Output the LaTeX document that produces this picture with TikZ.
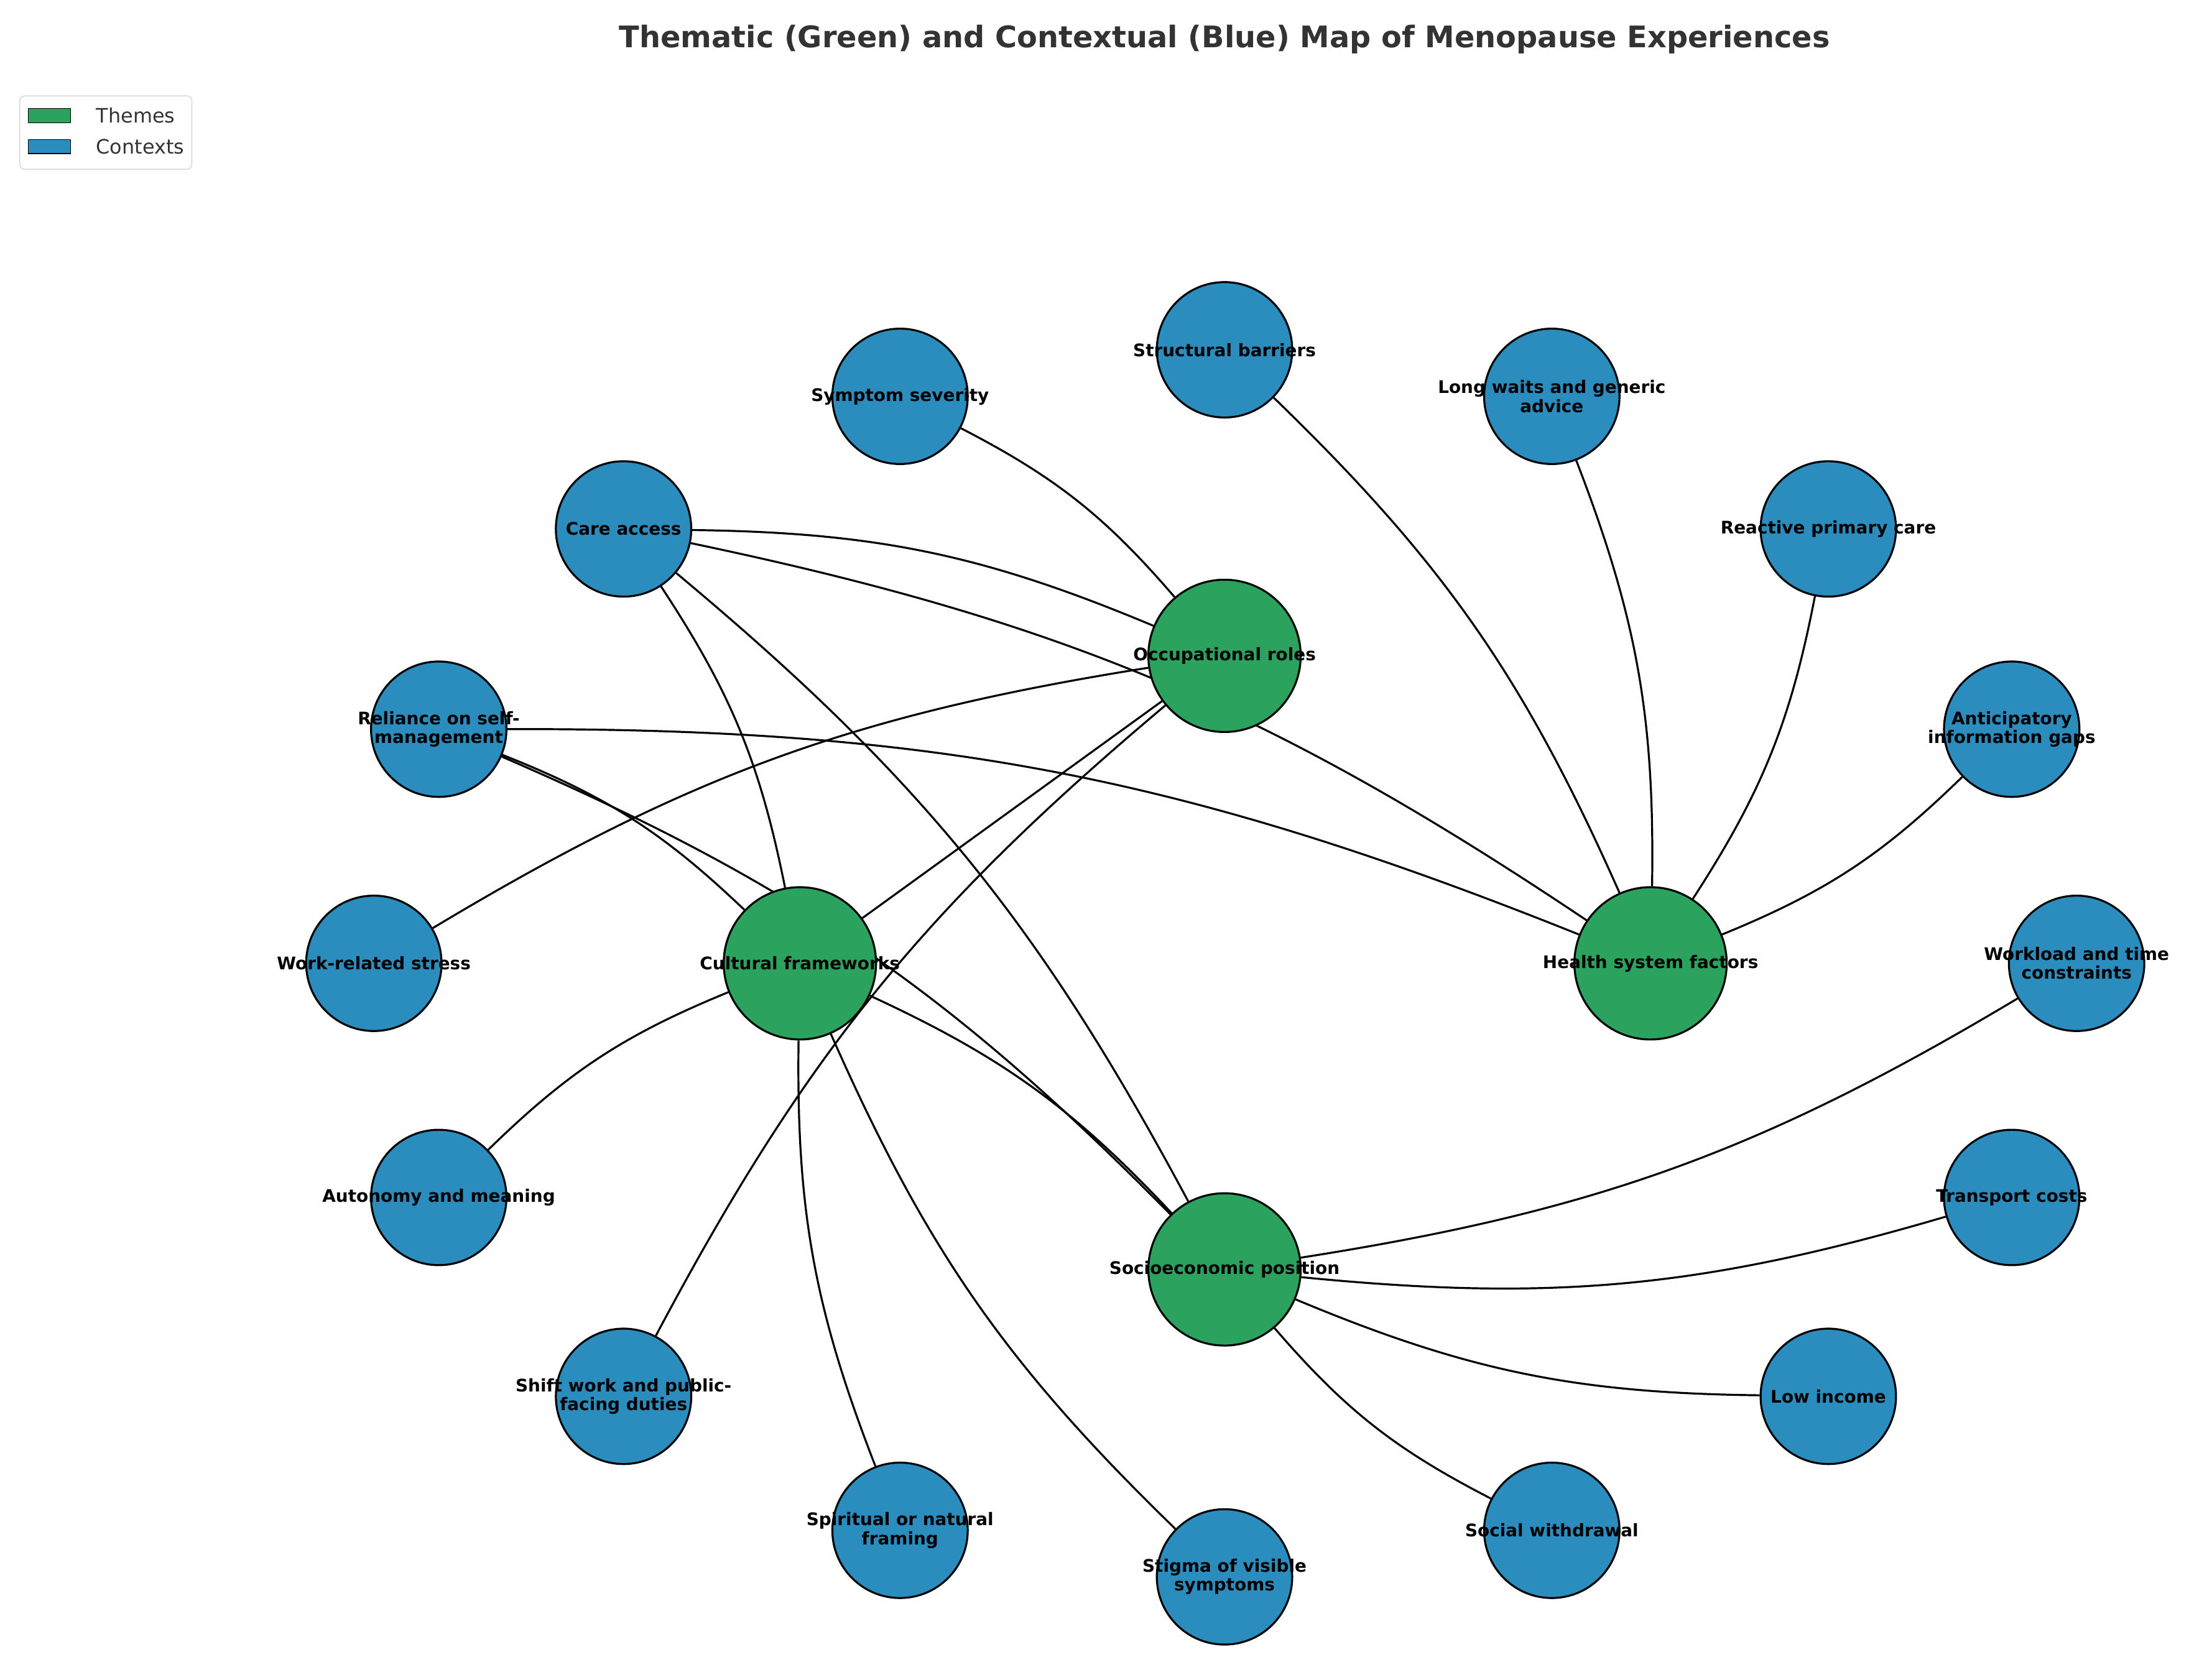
\documentclass[tikz,border=0pt]{standalone}
\usepackage{fontspec}
\setmainfont{DejaVu Sans}
\usetikzlibrary{backgrounds}
\definecolor{th}{RGB}{44,162,95}
\definecolor{cx}{RGB}{43,140,190}
\definecolor{tt}{RGB}{51,51,51}
\begin{document}
\begin{tikzpicture}[x=0.02cm,y=-0.02cm,
 ctx/.style={circle,draw=black,line width=0.8pt,fill=cx,minimum size=1.92cm,inner sep=0},
 thm/.style={circle,draw=black,line width=0.8pt,fill=th,minimum size=2.16cm,inner sep=0},
 lab/.style={font=\fontsize{7}{7.6}\selectfont\bfseries,align=center,inner sep=0},
 e/.style={line width=0.8pt,bend left=11}]
\useasboundingbox (0,0) rectangle (1568,1184);
\node[font=\fontsize{12}{14}\selectfont\bfseries,text=tt] (title) at (868,28) {Thematic (Green) and Contextual (Blue) Map of Menopause Experiences};
% legend
\node[draw=black!15,rounded corners=2pt,minimum width=2.44cm,minimum height=1.04cm] (leg) at (75,94) {};
\node[draw=black,fill=th,minimum width=0.6cm,minimum height=0.2cm,inner sep=0] (lg1) at (35,82) {};
\node[draw=black,fill=cx,minimum width=0.6cm,minimum height=0.2cm,inner sep=0] (lg2) at (35,104) {};
\node[anchor=west,font=\fontsize{8}{9}\selectfont,text=tt] (lt1) at (62,82) {Themes};
\node[anchor=west,font=\fontsize{8}{9}\selectfont,text=tt] (lt2) at (62,104) {Contexts};
% themes
\node[thm] (occ) at (868,465) {};
\node[thm] (cul) at (567,683) {};
\node[thm] (hea) at (1170,683) {};
\node[thm] (soc) at (868,900) {};
% contexts
\node[ctx] (str) at (868,248) {};
\node[ctx] (sym) at (638,281) {};
\node[ctx] (lon) at (1100,281) {};
\node[ctx] (car) at (442,375) {};
\node[ctx] (rea) at (1296,375) {};
\node[ctx] (rel) at (311,517) {};
\node[ctx] (ant) at (1426,517) {};
\node[ctx] (wrs) at (265,683) {};
\node[ctx] (wlt) at (1472,683) {};
\node[ctx] (aut) at (311,849) {};
\node[ctx] (tra) at (1426,849) {};
\node[ctx] (shi) at (442,990) {};
\node[ctx] (low) at (1296,990) {};
\node[ctx] (spi) at (638,1085) {};
\node[ctx] (soW) at (1100,1085) {};
\node[ctx] (sti) at (868,1118) {};
\begin{scope}[on background layer]
\draw[e] (sym) to (occ);
\draw[e] (str) to (hea);
\draw[e] (lon) to (hea);
\draw[e] (rea) to (hea);
\draw[e] (ant) to (hea);
\draw[e] (car) to (occ);
\draw[e] (car) to (hea);
\draw[e] (car) to (cul);
\draw[e] (car) to (soc);
\draw[e] (rel) to (hea);
\draw[e] (rel) to (cul);
\draw[e] (rel) to (soc);
\draw[e] (wrs) to (occ);
\draw[e,bend left=0] (cul) to (occ);
\draw[e] (shi) to (occ);
\draw[e] (aut) to (cul);
\draw[e] (spi) to (cul);
\draw[e] (sti) to (cul);
\draw[e] (cul) to (soc);
\draw[e] (wlt) to (soc);
\draw[e] (tra) to (soc);
\draw[e] (low) to (soc);
\draw[e] (soW) to (soc);
\end{scope}
% labels
\node[lab] (l1) at (occ) {Occupational roles};
\node[lab] (l2) at (cul) {Cultural frameworks};
\node[lab] (l3) at (hea) {Health system factors};
\node[lab] (l4) at (soc) {Socioeconomic position};
\node[lab] (l5) at (str) {Structural barriers};
\node[lab] (l6) at (sym) {Symptom severity};
\node[lab] (l7) at (lon) {Long waits and generic\\advice};
\node[lab] (l8) at (car) {Care access};
\node[lab] (l9) at (rea) {Reactive primary care};
\node[lab] (l10) at (rel) {Reliance on self-\\management};
\node[lab] (l11) at (ant) {Anticipatory\\information gaps};
\node[lab] (l12) at (wrs) {Work-related stress};
\node[lab] (l13) at (wlt) {Workload and time\\constraints};
\node[lab] (l14) at (aut) {Autonomy and meaning};
\node[lab] (l15) at (tra) {Transport costs};
\node[lab] (l16) at (shi) {Shift work and public-\\facing duties};
\node[lab] (l17) at (low) {Low income};
\node[lab] (l18) at (spi) {Spiritual or natural\\framing};
\node[lab] (l19) at (soW) {Social withdrawal};
\node[lab] (l20) at (sti) {Stigma of visible\\symptoms};
\end{tikzpicture}
\end{document}
